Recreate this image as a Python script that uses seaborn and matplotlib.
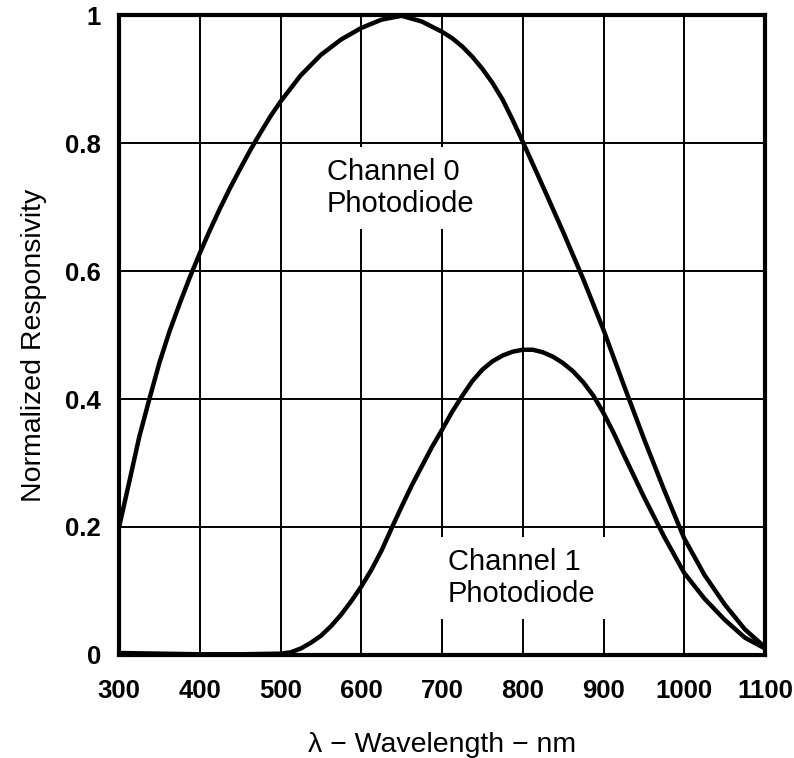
"""
Normalized responsivity of the two photodiode channels
"""
import pandas as pd
import matplotlib
matplotlib.use("Agg")
import matplotlib.pyplot as plt
import seaborn as sns

# channel 0 photodiode
ch0_nm = [300, 312.5, 325, 337.5, 350, 362.5, 375, 387.5, 400, 412.5, 425, 437.5,
          450, 462.5, 475, 487.5, 500, 525, 550, 575, 600, 625, 650, 675, 700,
          712.5, 725, 737.5, 750, 762.5, 775, 787.5, 800, 812.5, 825, 850, 875,
          900, 925, 950, 975, 1000, 1025, 1050, 1075, 1100]
ch0_resp = [0.2, 0.27, 0.341, 0.4, 0.457, 0.506, 0.549, 0.59, 0.628, 0.664, 0.698,
            0.73, 0.76, 0.789, 0.816, 0.842, 0.865, 0.906, 0.938, 0.962, 0.98,
            0.993, 0.999, 0.99, 0.974, 0.964, 0.951, 0.935, 0.916, 0.894, 0.868,
            0.836, 0.802, 0.767, 0.732, 0.661, 0.587, 0.508, 0.422, 0.338, 0.258,
            0.182, 0.125, 0.079, 0.04, 0.012]

# channel 1 photodiode
ch1_nm = [300, 350, 400, 450, 500, 512.5, 525, 537.5, 550, 562.5, 575, 587.5, 600,
          612.5, 625, 637.5, 650, 662.5, 675, 687.5, 700, 712.5, 725, 737.5, 750,
          762.5, 775, 787.5, 800, 812.5, 825, 837.5, 850, 862.5, 875, 887.5, 900,
          912.5, 925, 937.5, 950, 975, 1000, 1025, 1050, 1075, 1100]
ch1_resp = [0.003, 0.002, 0.001, 0.001, 0.002, 0.004, 0.01, 0.019, 0.03, 0.045,
            0.063, 0.084, 0.107, 0.133, 0.163, 0.198, 0.232, 0.265, 0.295, 0.325,
            0.352, 0.38, 0.405, 0.428, 0.446, 0.459, 0.468, 0.474, 0.477, 0.477,
            0.473, 0.466, 0.456, 0.443, 0.426, 0.405, 0.378, 0.347, 0.313, 0.28,
            0.247, 0.185, 0.128, 0.088, 0.055, 0.027, 0.01]

x_ticks = [300, 400, 500, 600, 700, 800, 900, 1000, 1100]
y_ticks = [0, 0.2, 0.4, 0.6, 0.8, 1.0]
y_tick_labels = ["0", "0.2", "0.4", "0.6", "0.8", "1"]

df = pd.concat([
    pd.DataFrame({"nm": ch0_nm, "resp": ch0_resp, "channel": "Channel 0"}),
    pd.DataFrame({"nm": ch1_nm, "resp": ch1_resp, "channel": "Channel 1"}),
])

sns.set_theme(style="white")
plt.rcParams['font.family'] = ['Liberation Sans', 'DejaVu Sans']
plt.rcParams['lines.solid_joinstyle'] = 'round'

fig = plt.figure(figsize=(7.94, 7.58), dpi=100)
ax = fig.add_axes([0.150, 0.136, 0.8135, 0.844])

sns.lineplot(data=df, x="nm", y="resp", units="channel", estimator=None,
             color="black", linewidth=3.2, sort=False, ax=ax, zorder=3)

ax.set_xlim(300, 1100)
ax.set_ylim(0, 1)
ax.set_xticks(x_ticks)
ax.set_yticks(y_ticks)
ax.set_yticklabels(y_tick_labels)
ax.tick_params(length=0, labelsize=18.5, colors="black")
ax.tick_params(axis="x", pad=17)
ax.tick_params(axis="y", pad=13)
for lab in ax.get_xticklabels() + ax.get_yticklabels():
    lab.set_fontweight("bold")

ax.grid(True, color="black", linewidth=1.4)
ax.set_axisbelow(True)
for sp in ax.spines.values():
    sp.set_color("black")
    sp.set_linewidth(3)
    sp.set_zorder(4)

ax.set_xlabel("\u03bb \u2212 Wavelength \u2212 nm", fontsize=20.5, color="black", labelpad=21)
ax.set_ylabel("Normalized Responsivity", fontsize=20.5, color="black")
ax.yaxis.set_label_coords(-0.112, 0.484)

box = dict(facecolor="white", edgecolor="none", pad=8)
ax.text(557, 0.73, "Channel 0\nPhotodiode", fontsize=21, ha="left", va="center",
        color="black", bbox=box, zorder=2)
ax.text(707, 0.12, "Channel 1\nPhotodiode", fontsize=21, ha="left", va="center",
        color="black", bbox=box, zorder=2)

fig.savefig("out.png", dpi=100)
